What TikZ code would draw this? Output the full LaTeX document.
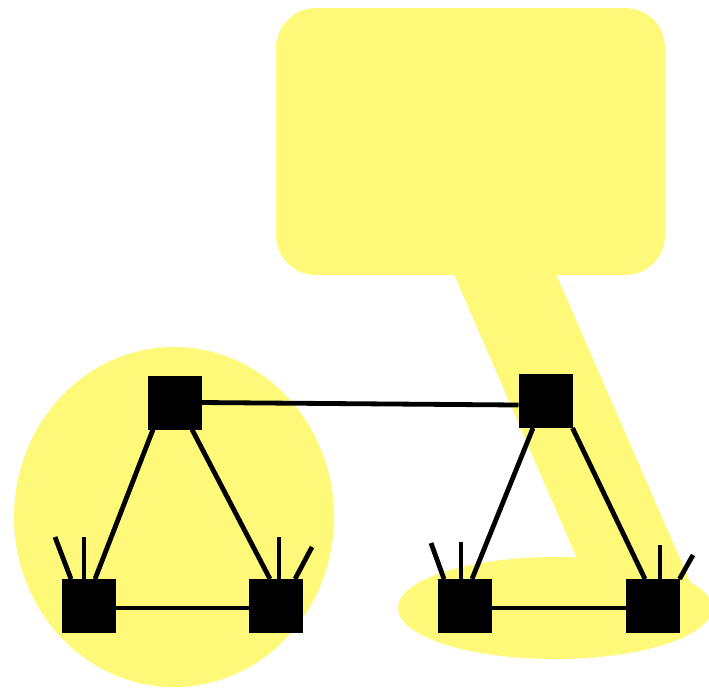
\documentclass[tikz,border=0pt]{standalone}
\usetikzlibrary{calc}
\definecolor{hl}{RGB}{255,249,122}
\pgfdeclarelayer{back}
\pgfdeclarelayer{mid}
\pgfsetlayers{back,mid,main}
\tikzset{
  sq/.style={fill=black,draw=none,minimum size=40.5pt,inner sep=0pt,outer sep=0pt},
  wire/.style={line width=3.6pt,draw=black},
  blob/.style={fill=hl,draw=none}
}
\begin{document}
\begin{tikzpicture}[x=0.75pt,y=-0.75pt]
\useasboundingbox (0,0) rectangle (709,687);
% highlight shapes
\begin{pgfonlayer}{back}
\fill[blob] (174,517) ellipse [x radius=160, y radius=170];
\fill[blob] (555,608) ellipse [x radius=157, y radius=51];
\fill[blob,rounded corners=30pt] (276,8) rectangle (665,275);
\fill[blob] (453,272) -- (555,272) -- (698,600) -- (595,600) -- cycle;
\end{pgfonlayer}
% nodes
\node[sq] (TL) at (174.5,402.5) {};
\node[sq] (BL1) at (89,606) {};
\node[sq] (BL2) at (275.5,606) {};
\node[sq] (TR) at (545.5,401) {};
\node[sq] (BR1) at (465,606) {};
\node[sq] (BR2) at (652.5,606) {};
% stub ends
\coordinate (s1) at (55,537);
\coordinate (s2) at (84,537);
\coordinate (s3) at (279,537);
\coordinate (s4) at (312,547);
\coordinate (s5) at (431,543);
\coordinate (s6) at (461,542);
\coordinate (s7) at (660,545);
\coordinate (s8) at (693,555);
\begin{pgfonlayer}{mid}
\draw[wire] (TL.east) -- ($(TR.west)+(0,4)$);
\draw[wire] ($(BL1.east)+(0,2)$) -- ($(BL2.west)+(0,2)$);
\draw[wire] ($(BR1.east)+(0,2)$) -- ($(BR2.west)+(0,2)$);
\draw[wire] ($(TL.south)+(-21.5,0)$) -- ($(BL1.north)+(6,0)$);
\draw[wire] ($(TL.south)+(17.5,0)$) -- ($(BL2.north)+(-5.5,0)$);
\draw[wire] ($(TR.south)+(-12.5,0)$) -- ($(BR1.north)+(7,0)$);
\draw[wire] (TR.south east) -- ($(BR2.north)+(-7.5,0)$);
\draw[wire] (s1) -- ($(BL1.north)+(-18,0)$);
\draw[wire] (s2) -- ($(BL1.north)+(-5,0)$);
\draw[wire] (s3) -- ($(BL2.north)+(3.5,0)$);
\draw[wire] (s4) -- ($(BL2.north)+(19.5,0)$);
\draw[wire] (s5) -- ($(BR1.north)+(-21,0)$);
\draw[wire] (s6) -- ($(BR1.north)+(-4,0)$);
\draw[wire] (s7) -- ($(BR2.north)+(7.5,0)$);
\draw[wire] (s8) -- (BR2.north east);
\end{pgfonlayer}
\end{tikzpicture}
\end{document}
